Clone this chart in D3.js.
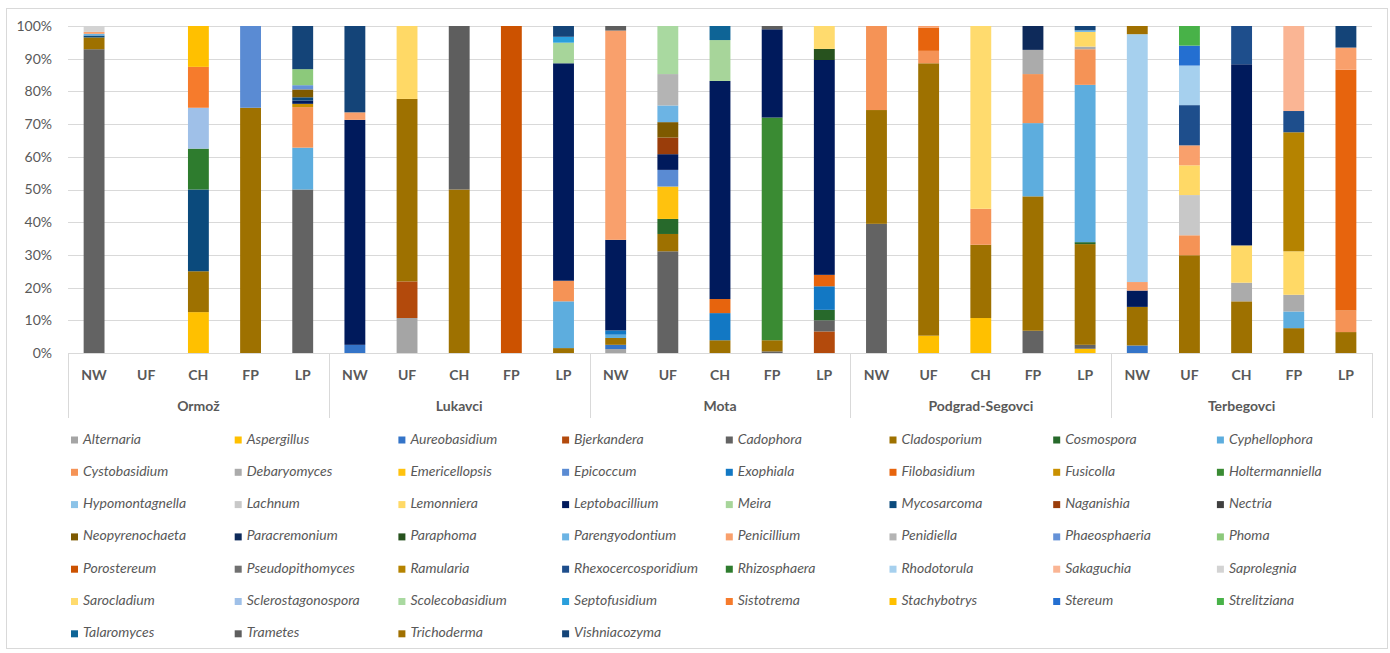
<!DOCTYPE html>
<html>
<head>
<meta charset="utf-8">
<script src="https://cdn.jsdelivr.net/npm/d3@7"></script>
<style>
  html, body { margin: 0; padding: 0; background: #fff; }
  svg text { font-family: Lato, "Open Sans", sans-serif; fill: #595959; }
</style>
</head>
<body>
<div id="chart"></div>
<script>
// sites (outer axis level) and habitats (inner axis level)
var sites = ["Ormož", "Lukavci", "Mota", "Podgrad-Segovci", "Terbegovci"];
var habitats = ["NW", "UF", "CH", "FP", "LP"];

// genera in legend order (stacked bottom -> top in this order)
var genera = [
  "Alternaria", "Aspergillus", "Aureobasidium", "Bjerkandera", "Cadophora", "Cladosporium", "Cosmospora", "Cyphellophora",
  "Cystobasidium", "Debaryomyces", "Emericellopsis", "Epicoccum", "Exophiala", "Filobasidium", "Fusicolla", "Holtermanniella",
  "Hypomontagnella", "Lachnum", "Lemonniera", "Leptobacillium", "Meira", "Mycosarcoma", "Naganishia", "Nectria",
  "Neopyrenochaeta", "Paracremonium", "Paraphoma", "Parengyodontium", "Penicillium", "Penidiella", "Phaeosphaeria", "Phoma",
  "Porostereum", "Pseudopithomyces", "Ramularia", "Rhexocercosporidium", "Rhizosphaera", "Rhodotorula", "Sakaguchia", "Saprolegnia",
  "Sarocladium", "Sclerostagonospora", "Scolecobasidium", "Septofusidium", "Sistotrema", "Stachybotrys", "Stereum", "Strelitziana",
  "Talaromyces", "Trametes", "Trichoderma", "Vishniacozyma"
];

var generaColors = [
  "#a5a5a5", "#ffc000", "#3474c8", "#b34a0c", "#636363", "#9e7100", "#27692b", "#5dadde",
  "#f59356", "#ababab", "#ffc20e", "#5a8bd3", "#1278c4", "#e7640d", "#c99000", "#3a8b33",
  "#8cc3e8", "#c8c8c8", "#ffd966", "#001a5c", "#a7d59a", "#0b4a7c", "#9a3d0a", "#404040",
  "#7e5a00", "#0e2a5a", "#27521e", "#6cb4e4", "#f9a06c", "#b4b4b4", "#6592d8", "#8cc97b",
  "#cc5200", "#707070", "#b58300", "#1e4e8c", "#2e7c2e", "#a6d0ee", "#fab594", "#d3d3d3",
  "#ffdb6e", "#9fc0e8", "#a9d9a0", "#2a9fdc", "#f67b2c", "#ffc000", "#246fd1", "#48b248",
  "#0e6496", "#5e5e5e", "#a07000", "#144478"
];

// relative abundance (%) per site x habitat
var ormozNW = {Cadophora: 92.9, Cladosporium: 3.6, Mycosarcoma: 0.6, Parengyodontium: 0.5, Penicillium: 0.6, Saprolegnia: 1.8};
var ormozUF = {};
var ormozCH = {Aspergillus: 12.5, Cladosporium: 12.5, Mycosarcoma: 25, Rhizosphaera: 12.5, Sclerostagonospora: 12.5, Sistotrema: 12.5, Stachybotrys: 12.5};
var ormozFP = {Cladosporium: 75, Epicoccum: 25};
var ormozLP = {Cadophora: 50, Cyphellophora: 12.8, Cystobasidium: 12.4, Fusicolla: 1.0, Leptobacillium: 1.0, Mycosarcoma: 1.0, Neopyrenochaeta: 2.4, Phaeosphaeria: 1.3, Phoma: 4.9, Vishniacozyma: 13.2};

var lukavciNW = {Aureobasidium: 2.5, Leptobacillium: 68.8, Penicillium: 2.3, Vishniacozyma: 26.4};
var lukavciUF = {Alternaria: 10.7, Bjerkandera: 11.2, Cladosporium: 55.8, Lemonniera: 22.3};
var lukavciCH = {Cladosporium: 50, Trametes: 50};
var lukavciFP = {Porostereum: 100};
var lukavciLP = {Cladosporium: 1.5, Cyphellophora: 14.3, Cystobasidium: 6.3, Leptobacillium: 66.5, Meira: 6.3, Septofusidium: 1.8, Vishniacozyma: 3.3};

var motaNW = {Alternaria: 1.2, Aureobasidium: 1.3, Cladosporium: 2.1, Cyphellophora: 1.0, Exophiala: 1.3, Leptobacillium: 27.7, Penicillium: 64.0, Trametes: 1.4};
var motaUF = {Cadophora: 31.1, Cladosporium: 5.3, Cosmospora: 4.6, Emericellopsis: 9.9, Epicoccum: 5.1, Leptobacillium: 4.8, Naganishia: 5.1, Neopyrenochaeta: 4.7, Parengyodontium: 5.1, Penidiella: 9.6, Scolecobasidium: 14.7};
var motaCH = {Cladosporium: 3.9, Exophiala: 8.3, Filobasidium: 4.3, Leptobacillium: 66.7, Meira: 12.5, Talaromyces: 4.3};
var motaFP = {Cadophora: 0.5, Cladosporium: 3.4, Holtermanniella: 68.1, Leptobacillium: 27.0, Trametes: 1.0};
var motaLP = {Bjerkandera: 6.6, Cadophora: 3.4, Cosmospora: 3.2, Exophiala: 7.2, Filobasidium: 3.5, Leptobacillium: 65.7, Paraphoma: 3.4, Sarocladium: 7.0};

var podgradNW = {Cadophora: 39.5, Cladosporium: 34.8, Cystobasidium: 25.7};
var podgradUF = {Aspergillus: 5.3, Cladosporium: 83.3, Cystobasidium: 3.8, Filobasidium: 7.1, Penicillium: 0.5};
var podgradCH = {Aspergillus: 10.7, Cladosporium: 22.4, Cystobasidium: 11.0, Sarocladium: 55.9};
var podgradFP = {Cadophora: 6.8, Cladosporium: 41.1, Cyphellophora: 22.4, Cystobasidium: 15.0, Debaryomyces: 7.4, Paracremonium: 7.3};
var podgradLP = {Aspergillus: 1.3, Cadophora: 1.2, Cladosporium: 30.8, Cosmospora: 0.6, Cyphellophora: 48.1, Cystobasidium: 10.9, Debaryomyces: 0.8, Lemonniera: 4.5, Parengyodontium: 0.5, Vishniacozyma: 1.3};

var terbegovciNW = {Aureobasidium: 2.3, Cladosporium: 11.8, Leptobacillium: 5.0, Penicillium: 2.6, Rhodotorula: 75.8, Trichoderma: 2.5};
var terbegovciUF = {Cladosporium: 29.9, Cystobasidium: 6.1, Lachnum: 12.3, Lemonniera: 9.1, Penicillium: 6.1, Rhexocercosporidium: 12.3, Rhodotorula: 12.1, Stereum: 6.1, Strelitziana: 6.0};
var terbegovciCH = {Cladosporium: 15.8, Debaryomyces: 5.7, Lemonniera: 11.4, Leptobacillium: 55.4, Rhexocercosporidium: 11.7};
var terbegovciFP = {Cladosporium: 7.6, Cyphellophora: 5.1, Debaryomyces: 5.1, Lemonniera: 13.3, Ramularia: 36.4, Rhexocercosporidium: 6.5, Sakaguchia: 26.0};
var terbegovciLP = {Cladosporium: 6.4, Cystobasidium: 6.6, Filobasidium: 73.6, Penicillium: 6.8, Vishniacozyma: 6.6};

var yTicks = [0, 0.1, 0.2, 0.3, 0.4, 0.5, 0.6, 0.7, 0.8, 0.9, 1];

var samples = [
  [ormozNW, ormozUF, ormozCH, ormozFP, ormozLP],
  [lukavciNW, lukavciUF, lukavciCH, lukavciFP, lukavciLP],
  [motaNW, motaUF, motaCH, motaFP, motaLP],
  [podgradNW, podgradUF, podgradCH, podgradFP, podgradLP],
  [terbegovciNW, terbegovciUF, terbegovciCH, terbegovciFP, terbegovciLP]
];

// flat table, one row per bar, zero for genera that are absent
var table = [];
sites.forEach(function (s, i) {
  habitats.forEach(function (h, j) {
    var row = {key: s + "|" + h, site: s, habitat: h};
    genera.forEach(function (g) { row[g] = samples[i][j][g] || 0; });
    table.push(row);
  });
});

var W = 1390, H = 653;
var plot = {left: 68, right: 1372, top: 26, bottom: 353};

var svg = d3.select("#chart").append("svg")
    .attr("width", W)
    .attr("height", H);

// chart frame
svg.append("rect")
    .attr("x", 6.5).attr("y", 8.5)
    .attr("width", 1381).attr("height", 640)
    .attr("fill", "#fff")
    .attr("stroke", "#d9d9d9");

var x = d3.scaleBand()
    .domain(table.map(function (d) { return d.key; }))
    .range([plot.left, plot.right])
    .paddingInner(0.6)
    .paddingOuter(0.3);

var xSite = d3.scaleBand()
    .domain(sites)
    .range([plot.left, plot.right]);

var y = d3.scaleLinear()
    .domain([0, 1])
    .range([plot.bottom, plot.top]);

var color = d3.scaleOrdinal()
    .domain(genera)
    .range(generaColors);

// gridlines
svg.append("g")
  .selectAll("line")
  .data(yTicks.slice(1))
  .enter().append("line")
    .attr("x1", plot.left).attr("x2", plot.right)
    .attr("y1", function (d) { return Math.round(y(d)) + 0.5; })
    .attr("y2", function (d) { return Math.round(y(d)) + 0.5; })
    .attr("stroke", "#d9d9d9");

// y axis labels
svg.append("g")
    .attr("transform", "translate(" + plot.left + ",0)")
    .call(d3.axisLeft(y).tickValues(yTicks).tickFormat(d3.format(".0%")).tickSize(0).tickPadding(16))
    .call(function (g) { g.select(".domain").remove(); })
    .selectAll("text")
      .style("font-size", "14px");

// stacked bars (100%)
var stack = d3.stack()
    .keys(genera)
    .offset(d3.stackOffsetExpand);

var series = stack(table);

svg.append("g")
  .selectAll("g")
  .data(series)
  .enter().append("g")
    .attr("fill", function (d) { return color(d.key); })
  .selectAll("rect")
  .data(function (d) { return d.filter(function (p) { return p[1] - p[0] > 0; }); })
  .enter().append("rect")
    .attr("x", function (d) { return x(d.data.key); })
    .attr("y", function (d) { return y(d[1]); })
    .attr("width", x.bandwidth())
    .attr("height", function (d) { return y(d[0]) - y(d[1]); });

// category axis: baseline + group separators
var axisG = svg.append("g");

axisG.append("line")
    .attr("x1", plot.left).attr("x2", plot.right)
    .attr("y1", plot.bottom + 0.5).attr("y2", plot.bottom + 0.5)
    .attr("stroke", "#d9d9d9");

axisG.selectAll(".sep")
  .data(sites.map(function (s) { return xSite(s); }).concat([plot.right]))
  .enter().append("line")
    .attr("class", "sep")
    .attr("x1", function (d) { return Math.round(d) + 0.5; })
    .attr("x2", function (d) { return Math.round(d) + 0.5; })
    .attr("y1", plot.bottom)
    .attr("y2", 418)
    .attr("stroke", "#d9d9d9");

axisG.selectAll(".hab")
  .data(table)
  .enter().append("text")
    .attr("class", "hab")
    .attr("x", function (d) { return x(d.key) + x.bandwidth() / 2; })
    .attr("y", 376)
    .attr("text-anchor", "middle")
    .attr("dominant-baseline", "middle")
    .style("font-size", "14px")
    .style("font-weight", "bold")
    .text(function (d) { return d.habitat; });

axisG.selectAll(".site")
  .data(sites)
  .enter().append("text")
    .attr("class", "site")
    .attr("x", function (d) { return xSite(d) + xSite.bandwidth() / 2; })
    .attr("y", 407)
    .attr("text-anchor", "middle")
    .attr("dominant-baseline", "middle")
    .style("font-size", "14px")
    .style("font-weight", "bold")
    .text(function (d) { return d; });

// legend, 8 columns
var legCols = 8, legX = 71, legDx = 163.7, legY = 440, legDy = 32.3;

var leg = svg.append("g")
  .selectAll("g")
  .data(genera)
  .enter().append("g")
    .attr("transform", function (d, i) {
      return "translate(" + (legX + (i % legCols) * legDx) + "," + (legY + Math.floor(i / legCols) * legDy) + ")";
    });

leg.append("rect")
    .attr("x", 0).attr("y", -3.5)
    .attr("width", 7).attr("height", 7)
    .attr("fill", function (d) { return color(d); });

leg.append("text")
    .attr("x", 12)
    .attr("y", 0)
    .attr("dominant-baseline", "middle")
    .style("font-size", "14px")
    .style("font-style", "italic")
    .text(function (d) { return d; });
</script>
</body>
</html>
